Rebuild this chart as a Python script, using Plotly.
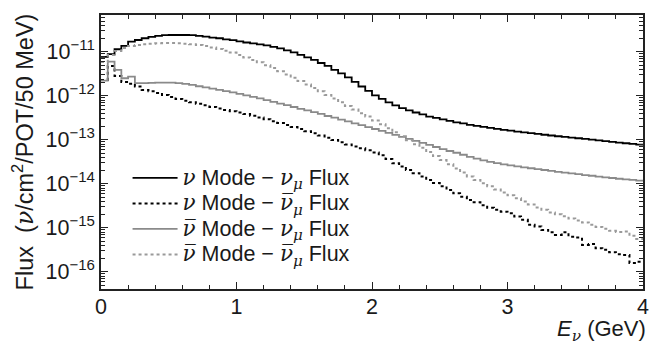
import numpy as np
import plotly.graph_objects as go

# 50 MeV bins from 0 to 4 GeV
bin_width = 0.05
n_bins = 80

# nu mode - nu_mu flux
nu_mode_numu = [
    7.7e-12, 8.9e-12, 1.15e-11, 1.37e-11, 1.71e-11, 1.87e-11, 2.05e-11, 2.19e-11, 2.31e-11, 2.40e-11,
    2.43e-11, 2.43e-11, 2.43e-11, 2.40e-11, 2.31e-11, 2.23e-11, 2.11e-11, 2.05e-11, 1.94e-11, 1.85e-11,
    1.73e-11, 1.64e-11, 1.56e-11, 1.48e-11, 1.41e-11, 1.30e-11, 1.20e-11, 1.08e-11, 9.75e-12, 8.55e-12,
    7.5e-12, 6.6e-12, 5.6e-12, 4.8e-12, 3.9e-12, 3.25e-12, 2.63e-12, 2.08e-12, 1.64e-12, 1.30e-12,
    1.03e-12, 8.55e-13, 7.1e-13, 6.1e-13, 5.3e-13, 4.7e-13, 4.2e-13, 3.8e-13, 3.4e-13, 3.16e-13,
    2.92e-13, 2.70e-13, 2.50e-13, 2.37e-13, 2.19e-13, 2.08e-13, 1.97e-13, 1.87e-13, 1.78e-13, 1.69e-13,
    1.62e-13, 1.55e-13, 1.49e-13, 1.43e-13, 1.37e-13, 1.31e-13, 1.26e-13, 1.21e-13, 1.17e-13, 1.13e-13,
    1.09e-13, 1.05e-13, 1.01e-13, 9.75e-14, 9.4e-14, 9.06e-14, 8.7e-14, 8.4e-14, 8.1e-14, 7.85e-14,
]

# nu mode - anti nu_mu flux
nu_mode_numubar = [
    2.31e-12, 4.8e-12, 2.85e-12, 2.08e-12, 1.88e-12, 1.64e-12, 1.37e-12, 1.27e-12, 1.17e-12, 1.05e-12,
    9.5e-13, 8.55e-13, 7.8e-13, 7.2e-13, 6.6e-13, 6.1e-13, 5.6e-13, 5.2e-13, 4.8e-13, 4.5e-13,
    4.2e-13, 3.86e-13, 3.55e-13, 3.24e-13, 2.95e-13, 2.67e-13, 2.42e-13, 2.19e-13, 1.97e-13, 1.78e-13,
    1.58e-13, 1.41e-13, 1.26e-13, 1.12e-13, 9.95e-14, 8.8e-14, 7.9e-14, 7.1e-14, 6.5e-14, 5.8e-14,
    5.2e-14, 4.45e-14, 3.7e-14, 2.95e-14, 2.5e-14, 2.08e-14, 1.75e-14, 1.48e-14, 1.23e-14, 1.05e-14,
    8.8e-15, 7.3e-15, 6.1e-15, 5.1e-15, 4.3e-15, 3.8e-15, 3.25e-15, 2.85e-15, 2.57e-15, 2.34e-15,
    2.16e-15, 1.81e-15, 1.52e-15, 1.17e-15, 1.07e-15, 9.0e-16, 7.9e-16, 6.9e-16, 7.9e-16, 6.3e-16,
    6.0e-16, 4.1e-16, 4.3e-16, 3.46e-16, 3.16e-16, 2.8e-16, 2.52e-16, 2.43e-16, 1.58e-16, 1.69e-16,
]

# anti-nu mode - nu_mu flux
nubar_mode_numu = [
    2.23e-12, 6.0e-12, 3.9e-12, 2.52e-12, 2.75e-12, 1.95e-12, 1.95e-12, 1.97e-12, 2.0e-12, 2.0e-12,
    2.0e-12, 1.95e-12, 1.88e-12, 1.78e-12, 1.66e-12, 1.56e-12, 1.46e-12, 1.37e-12, 1.28e-12, 1.20e-12,
    1.11e-12, 1.03e-12, 9.5e-13, 8.8e-13, 8.0e-13, 7.3e-13, 6.7e-13, 6.15e-13, 5.6e-13, 5.1e-13,
    4.7e-13, 4.3e-13, 3.9e-13, 3.5e-13, 3.2e-13, 2.9e-13, 2.63e-13, 2.38e-13, 2.16e-13, 1.95e-13,
    1.77e-13, 1.60e-13, 1.44e-13, 1.30e-13, 1.17e-13, 1.05e-13, 9.5e-14, 8.55e-14, 7.7e-14, 6.9e-14,
    6.2e-14, 5.6e-14, 5.1e-14, 4.6e-14, 4.1e-14, 3.74e-14, 3.42e-14, 3.16e-14, 2.95e-14, 2.77e-14,
    2.63e-14, 2.5e-14, 2.38e-14, 2.27e-14, 2.17e-14, 2.07e-14, 1.97e-14, 1.88e-14, 1.81e-14, 1.73e-14,
    1.66e-14, 1.59e-14, 1.53e-14, 1.47e-14, 1.41e-14, 1.36e-14, 1.31e-14, 1.27e-14, 1.23e-14, 1.19e-14,
]

# anti-nu mode - anti nu_mu flux
nubar_mode_numubar = [
    5.9e-12, 8.55e-12, 1.05e-11, 1.23e-11, 1.37e-11, 1.44e-11, 1.50e-11, 1.54e-11, 1.58e-11, 1.59e-11,
    1.59e-11, 1.57e-11, 1.54e-11, 1.49e-11, 1.43e-11, 1.36e-11, 1.27e-11, 1.17e-11, 1.07e-11, 9.7e-12,
    8.55e-12, 7.5e-12, 6.6e-12, 5.8e-12, 5.0e-12, 4.3e-12, 3.64e-12, 3.08e-12, 2.6e-12, 2.19e-12,
    1.82e-12, 1.52e-12, 1.27e-12, 1.05e-12, 8.7e-13, 7.2e-13, 5.9e-13, 4.9e-13, 4.06e-13, 3.39e-13,
    2.77e-13, 2.28e-13, 1.84e-13, 1.49e-13, 1.21e-13, 9.8e-14, 8.0e-14, 6.6e-14, 5.3e-14, 4.3e-14,
    3.5e-14, 2.8e-14, 2.25e-14, 1.82e-14, 1.48e-14, 1.23e-14, 1.03e-14, 8.8e-15, 7.5e-15, 6.4e-15,
    5.5e-15, 4.7e-15, 4.0e-15, 3.4e-15, 2.9e-15, 2.57e-15, 2.25e-15, 2.03e-15, 1.83e-15, 1.64e-15,
    1.48e-15, 1.33e-15, 1.17e-15, 1.05e-15, 9.5e-16, 8.55e-16, 8.1e-16, 8.3e-16, 6.6e-16, 5.6e-16,
]

SERIF = "DejaVu Serif"
NU = f"<span style='font-family:{SERIF}'><i>ν</i></span>"
NUBAR = f"<span style='font-family:{SERIF}'><i>ν\u0305</i></span>"
MU = f"<sub><span style='font-family:{SERIF}'><i>μ</i></span></sub>"

def legend_text(s):
    return "<span style='font-size:21.5px'>" + s + "</span>"

series_names = [
    legend_text(f"{NU} Mode − {NU}{MU} Flux"),
    legend_text(f"{NU} Mode − {NUBAR}{MU} Flux"),
    legend_text(f"{NUBAR} Mode − {NU}{MU} Flux"),
    legend_text(f"{NUBAR} Mode − {NUBAR}{MU} Flux"),
]

x_ticks = [0, 1, 2, 3, 4]
y_major = [1e-16, 1e-15, 1e-14, 1e-13, 1e-12, 1e-11]
y_major_text = ["10<sup>−16</sup>", "10<sup>−15</sup>", "10<sup>−14</sup>",
                "10<sup>−13</sup>", "10<sup>−12</sup>", "10<sup>−11</sup>"]

edges = np.arange(n_bins + 1) * bin_width

def step(vals):
    return list(edges), list(vals) + [vals[-1]]

styles = [
    dict(color="#000000", width=1.8, dash="solid"),
    dict(color="#000000", width=2.0, dash="dot"),
    dict(color="#8a8a8a", width=1.8, dash="solid"),
    dict(color="#9a9a9a", width=2.0, dash="dot"),
]

fig = go.Figure()
for vals, name, st in zip(
        [nu_mode_numu, nu_mode_numubar, nubar_mode_numu, nubar_mode_numubar],
        series_names, styles):
    xs, ys = step(vals)
    fig.add_trace(go.Scatter(x=xs, y=ys, mode="lines", name=name,
                             line=dict(shape="hv", **st)))

font_family = "Liberation Sans, Arial, sans-serif"
TXT = "#1a1a1a"

minor_y = [m * 10.0 ** e for e in range(-17, -10) for m in range(2, 10)]

fig.update_layout(
    width=655, height=345,
    margin=dict(l=101, r=6, t=15, b=56),
    paper_bgcolor="white", plot_bgcolor="white",
    font=dict(family=font_family, size=21.5, color=TXT),
    showlegend=True,
    legend=dict(x=0.049, y=0.47, xanchor="left", yanchor="top",
                bgcolor="rgba(0,0,0,0)", font=dict(size=17.3, color=TXT),
                itemwidth=45),
    xaxis=dict(range=[0, 4], tickvals=x_ticks, ticktext=[str(v) for v in x_ticks],
               ticks="inside", ticklen=7, tickwidth=1.2, tickcolor="#222",
               showline=True, linecolor="#222", linewidth=1.5, mirror="allticks",
               showgrid=False, zeroline=False, ticklabelstandoff=-3,
               minor=dict(dtick=0.2, ticks="inside", ticklen=4, tickcolor="#222", showgrid=False),
               tickfont=dict(size=21.5)),
    yaxis=dict(type="log", range=[-16.39, -10.16],
               tickvals=y_major, ticktext=y_major_text,
               ticks="inside", ticklen=7, tickwidth=1.2, tickcolor="#222",
               showline=True, linecolor="#222", linewidth=1.5, mirror="allticks",
               showgrid=False, zeroline=False,
               minor=dict(tickvals=minor_y, ticks="inside", ticklen=4, tickcolor="#222", showgrid=False),
               tickfont=dict(size=21.5)),
)

fig.add_annotation(
    text=(f"Flux  (<span style='font-family:{SERIF}'><i>ν</i></span>"
          "/cm<sup>2</sup>/POT/50 MeV)"),
    xref="paper", yref="paper", x=-0.1432, y=0.5, xanchor="center", yanchor="middle",
    textangle=-90, showarrow=False, font=dict(size=23.5, color=TXT))

fig.add_annotation(
    text=(f"<i>E</i><sub><span style='font-family:{SERIF}'><i>ν</i></span></sub> (GeV)"),
    xref="paper", yref="paper", x=1.007, y=-0.151, xanchor="right", yanchor="middle",
    showarrow=False, borderpad=0, font=dict(size=22, color=TXT))

fig.write_html("out.html")
